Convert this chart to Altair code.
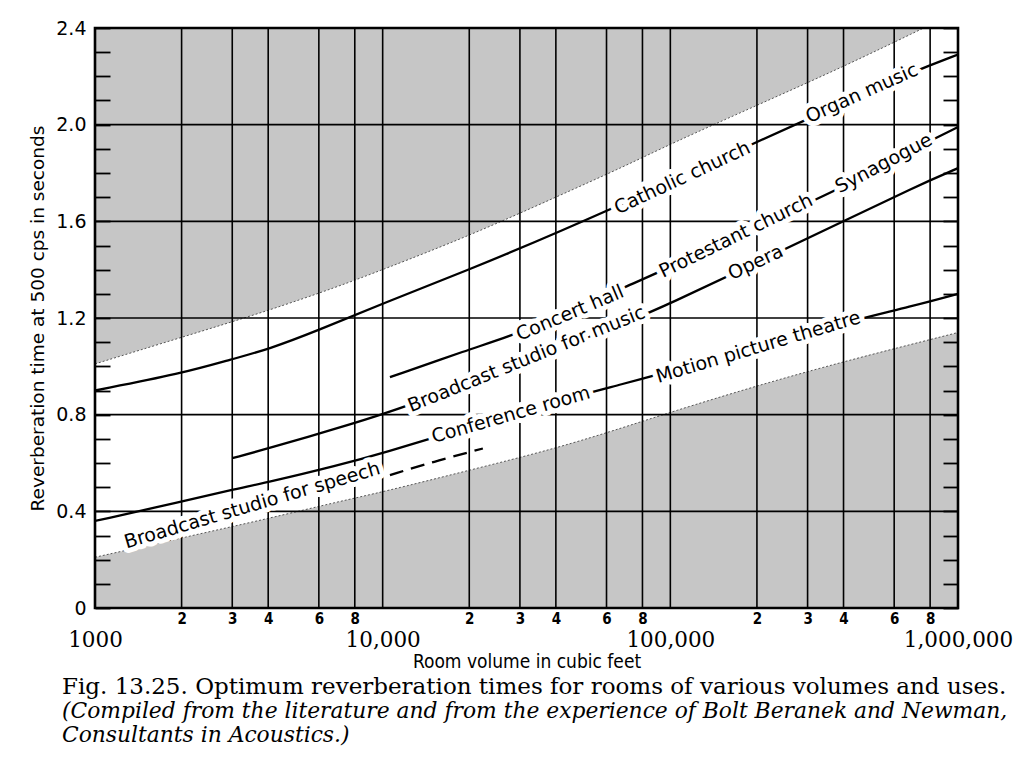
import json
import altair as alt
import pandas as pd

# ---------------- data ----------------
X_DOMAIN = [1000, 1000000]
Y_DOMAIN = [0.0, 2.4]

# solid curves: room volume (cubic feet) -> reverberation time (s)
CURVE_A_V = [1000, 2000, 3000, 4000, 6000, 10000, 20000, 40000, 100000, 200000, 400000, 700000, 1000000]
CURVE_A_T = [0.90, 0.97, 1.03, 1.07, 1.15, 1.26, 1.40, 1.55, 1.76, 1.93, 2.09, 2.22, 2.29]

CURVE_B_V = [10600, 20000, 27000, 40000, 70000, 100000, 200000, 400000, 700000, 1000000]
CURVE_B_T = [0.955, 1.07, 1.12, 1.20, 1.33, 1.41, 1.58, 1.74, 1.90, 1.99]

CURVE_C_V = [3000, 4000, 7000, 10000, 20000, 40000, 70000, 100000, 200000, 400000, 700000, 1000000]
CURVE_C_T = [0.62, 0.66, 0.745, 0.80, 0.93, 1.07, 1.18, 1.26, 1.43, 1.60, 1.74, 1.82]

CURVE_D_V = [1000, 2000, 3000, 4000, 7000, 10000, 20000, 40000, 70000, 100000, 200000, 400000, 700000, 1000000]
CURVE_D_T = [0.36, 0.44, 0.49, 0.52, 0.59, 0.64, 0.75, 0.855, 0.93, 0.98, 1.08, 1.18, 1.25, 1.30]

# dashed continuation of "Broadcast studio for speech"
CURVE_E_V = [10600, 15000, 22300]
CURVE_E_T = [0.55, 0.605, 0.66]

# shaded (non-recommended) zones
UPPER_V = [1000, 2000, 4000, 7000, 10000, 20000, 40000, 70000, 100000, 200000, 400000, 760000]
UPPER_T = [1.01, 1.12, 1.23, 1.33, 1.40, 1.54, 1.70, 1.83, 1.92, 2.08, 2.24, 2.40]

LOWER_V = [1000, 2000, 4000, 7000, 10000, 20000, 40000, 70000, 100000, 200000, 400000, 1000000]
LOWER_T = [0.21, 0.29, 0.37, 0.44, 0.48, 0.57, 0.66, 0.75, 0.81, 0.92, 1.02, 1.14]

# curve labels
LABEL_TEXT = ["Catholic church", "Organ music", "Concert hall", "Protestant church", "Synagogue",
              "Broadcast studio for music", "Opera", "Broadcast studio for speech",
              "Conference room", "Motion picture theatre"]
LABEL_V = [110000, 463000, 44800, 169000, 552000, 31600, 198000, 3520, 27900, 202000]
LABEL_T = [1.78, 2.13, 1.22, 1.54, 1.84, 1.03, 1.43, 0.425, 0.80, 1.08]
LABEL_ANGLE = [335, 336, 337, 334, 332, 338, 335, 343.6, 344, 343.5]

# axes
X_TICK_VALUES = [1000, 2000, 3000, 4000, 6000, 8000,
                 10000, 20000, 30000, 40000, 60000, 80000,
                 100000, 200000, 300000, 400000, 600000, 800000, 1000000]
X_TICK_LABELS = ["1000", "2", "3", "4", "6", "8",
                 "10,000", "2", "3", "4", "6", "8",
                 "100,000", "2", "3", "4", "6", "8", "1,000,000"]
X_MAJOR = [1000, 10000, 100000, 1000000]
X_GRID = [2000, 3000, 4000, 6000, 8000, 10000, 20000, 30000, 40000, 60000, 80000,
          100000, 200000, 300000, 400000, 600000, 800000]
Y_GRID = [0.4, 0.8, 1.2, 1.6, 2.0]
Y_TICK_VALUES = [0.0, 0.1, 0.2, 0.3, 0.4, 0.5, 0.6, 0.7, 0.8, 0.9, 1.0, 1.1, 1.2,
                 1.3, 1.4, 1.5, 1.6, 1.7, 1.8, 1.9, 2.0, 2.1, 2.2, 2.3, 2.4]
Y_TICK_LABELS = ["0", "", "", "", "0.4", "", "", "", "0.8", "", "", "", "1.2",
                 "", "", "", "1.6", "", "", "", "2.0", "", "", "", "2.4"]

CAPTION = "Fig. 13.25. Optimum reverberation times for rooms of various volumes and uses."
CAPTION_SUB = ["(Compiled from the literature and from the experience of Bolt Beranek and Newman,",
               "Consultants in Acoustics.)"]

# ---------------- tables ----------------
def curve_rows(name, vs, ts):
    return [{"curve": name, "V": v, "T": t} for v, t in zip(vs, ts)]

solid = pd.DataFrame(curve_rows("A", CURVE_A_V, CURVE_A_T) + curve_rows("B", CURVE_B_V, CURVE_B_T)
                     + curve_rows("C", CURVE_C_V, CURVE_C_T) + curve_rows("D", CURVE_D_V, CURVE_D_T))
dashed = pd.DataFrame(curve_rows("E", CURVE_E_V, CURVE_E_T))
upper = pd.DataFrame({"V": UPPER_V, "T": UPPER_T})
lower = pd.DataFrame({"V": LOWER_V, "T": LOWER_T})
labels = pd.DataFrame({"text": LABEL_TEXT, "V": LABEL_V, "T": LABEL_T, "angle": LABEL_ANGLE})
xgrid = pd.DataFrame({"V": X_GRID})
ygrid = pd.DataFrame({"T": Y_GRID})
frame = pd.DataFrame({"V": [X_DOMAIN[0]], "V1": [X_DOMAIN[1]], "y0": [Y_DOMAIN[0]], "y1": [Y_DOMAIN[1]]})

XS = alt.Scale(type="log", domain=X_DOMAIN, nice=False)
YS = alt.Scale(domain=Y_DOMAIN, nice=False, zero=False)

SHADE = "#c6c6c6"
major_test = f"indexof({json.dumps(X_MAJOR)}, datum.value) >= 0"

x_axis = alt.Axis(
    values=X_TICK_VALUES,
    labelExpr=f"{json.dumps(X_TICK_LABELS)}[indexof({json.dumps(X_TICK_VALUES)}, datum.value)]",
    grid=False, ticks=False, domain=False,
    labelOverlap=False, labelFlush=False, labelBound=False,
    labelColor="black",
    labelFont={"condition": {"test": major_test, "value": "DejaVu Serif"}, "value": "DejaVu Sans Condensed, DejaVu Sans"},
    labelFontSize={"condition": {"test": major_test, "value": 21.5}, "value": 15},
    labelFontWeight={"condition": {"test": major_test, "value": "normal"}, "value": "bold"},
    labelPadding={"condition": {"test": major_test, "value": 21}, "value": 3},
    title="Room volume in cubic feet", titleFont="DejaVu Sans Condensed, DejaVu Sans",
    titleFontSize=19, titleFontWeight="normal", titleColor="black", titlePadding=2,
)

y_axis = alt.Axis(
    values=Y_TICK_VALUES,
    labelExpr=f"{json.dumps(Y_TICK_LABELS)}[indexof({json.dumps(Y_TICK_VALUES)}, datum.value)]",
    orient="left", offset=-15, tickSize=15, tickColor="black", tickWidth=1.8,
    domain=False, grid=False, labelPadding=9, labelFont="DejaVu Sans", labelFontSize=19,
    labelColor="black", labelOverlap=False, labelFlush=False, labelBound=False,
    title="Reverberation time at 500 cps in seconds", titleFont="DejaVu Sans",
    titleFontSize=18.5, titleFontWeight="normal", titleColor="black", titlePadding=8, zindex=1,
)

right_axis = alt.Axis(
    values=Y_TICK_VALUES, orient="right", offset=-15, tickSize=15, tickColor="black",
    tickWidth=1.8, labels=False, domain=False, grid=False, title=None, zindex=1)


def xy(yaxis=None):
    return dict(x=alt.X("V:Q", scale=XS, axis=x_axis), y=alt.Y("T:Q", scale=YS, axis=yaxis))


upper_area = alt.Chart(upper).mark_area(color=SHADE, clip=True, interpolate="basis").encode(
    y2=alt.datum(Y_DOMAIN[1]), **xy(y_axis))
lower_area = alt.Chart(lower).mark_area(color=SHADE, clip=True, interpolate="basis").encode(
    y2=alt.datum(Y_DOMAIN[0]), **xy())
upper_edge = alt.Chart(upper).mark_line(color="#555", strokeWidth=1, strokeDash=[2, 2],
                                        clip=True, interpolate="basis").encode(**xy())
lower_edge = alt.Chart(lower).mark_line(color="#555", strokeWidth=1, strokeDash=[2, 2],
                                        clip=True, interpolate="basis").encode(**xy())

vgrid = alt.Chart(xgrid).mark_rule(color="black", strokeWidth=1.6).encode(
    x=alt.X("V:Q", scale=XS, axis=x_axis))
hgrid = alt.Chart(ygrid).mark_rule(color="black", strokeWidth=1.6).encode(
    y=alt.Y("T:Q", scale=YS, axis=None))

lines = alt.Chart(solid).mark_line(color="black", strokeWidth=2.3, interpolate="basis", clip=True).encode(
    detail="curve:N", order="V:Q", **xy())
dash_line = alt.Chart(dashed).mark_line(color="black", strokeWidth=2.3, strokeDash=[14, 8],
                                        interpolate="basis", clip=True).encode(order="V:Q", **xy())

halo = alt.Chart(labels).mark_text(font="DejaVu Sans", fontSize=19, color="white", stroke="white",
                                   strokeWidth=10, strokeJoin="round", align="center", baseline="middle").encode(
    text="text:N", angle=alt.Angle("angle:Q", scale=None), **xy())
texts = alt.Chart(labels).mark_text(font="DejaVu Sans", fontSize=19, color="black",
                                    align="center", baseline="middle").encode(
    text="text:N", angle=alt.Angle("angle:Q", scale=None), **xy())

frame_layer = alt.Chart(frame).mark_rect(filled=False, stroke="black", strokeWidth=2.6).encode(
    x=alt.X("V:Q", scale=XS, axis=x_axis), x2="V1",
    y=alt.Y("y0:Q", scale=YS, axis=right_axis), y2="y1",
)

chart = alt.layer(upper_area, lower_area, upper_edge, lower_edge, vgrid, hgrid,
                  lines, dash_line, halo, texts, frame_layer).resolve_axis(y="independent").properties(
    width=863, height=580,
    autosize=alt.AutoSizeParams(type="none"),
    padding={"left": 87, "top": 20, "right": 58, "bottom": 150},
    background="white",
    title=alt.TitleParams(
        text=CAPTION, subtitle=CAPTION_SUB, orient="bottom", anchor="start", frame="group",
        dx=-33, offset=4, font="DejaVu Serif", fontSize=23, fontWeight="normal", color="black",
        subtitleFont="DejaVu Serif", subtitleFontSize=21.8, subtitleFontStyle="italic",
        subtitleColor="black", subtitlePadding=2, lineHeight=24, subtitleLineHeight=24,
    ),
).configure_view(stroke=None)

chart.save("out.html", embed_options={"renderer": "svg", "actions": False})
